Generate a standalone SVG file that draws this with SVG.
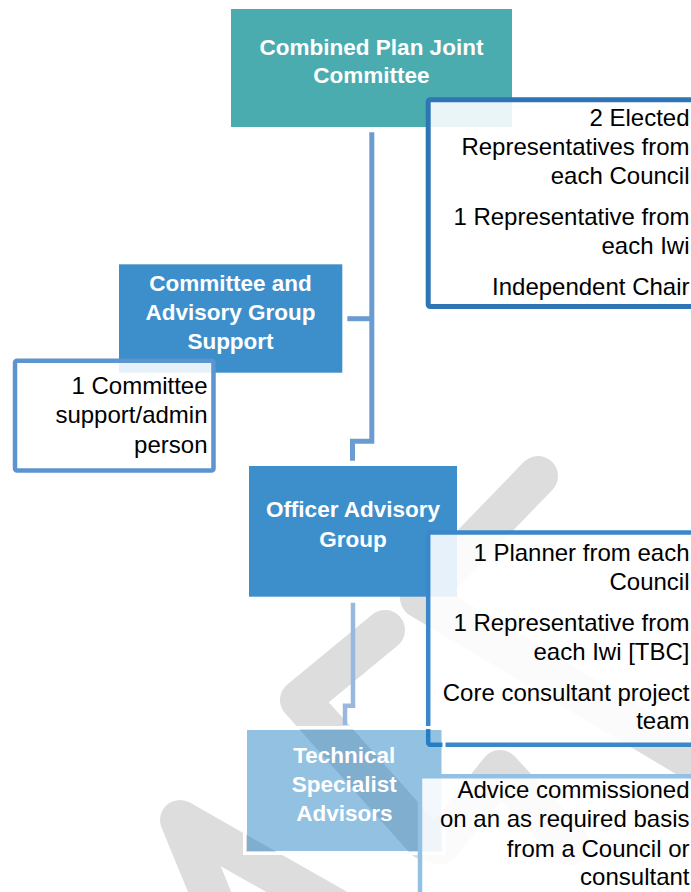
<svg xmlns="http://www.w3.org/2000/svg" width="691" height="892" viewBox="0 0 691 892">
  <style>
    .head { font-family: "Liberation Sans", Arial, sans-serif; font-weight: bold; font-size: 22.5px; fill: #ffffff; text-anchor: middle; }
    .item { font-family: "Liberation Sans", Arial, sans-serif; font-size: 24px; fill: #000000; text-anchor: end; }
    .card { fill: #ffffff; fill-opacity: 0.88; }
    .wm { fill: none; stroke: #dddddd; stroke-width: 40; stroke-linejoin: round; stroke-linecap: round; }
    .link { fill: none; stroke-linejoin: miter; }
  </style>

  <rect x="0" y="0" width="691" height="892" fill="#ffffff"/>

  <!-- background watermark strokes -->
  <g id="watermark">
    <path class="wm" d="M215,905 L180,820 L335,908"/>
    <path class="wm" d="M385,630 L300,700 L425,840"/>
    <path class="wm" d="M538,476 L420,598 L730,783"/>
    <path class="wm" d="M440,845 L500,770 L570,845"/>
  </g>

  <!-- connectors -->
  <g id="connectors">
    <path class="link" d="M371.8,132.3 V441.3 H352.5 V460.7" stroke="#6a9bd1" stroke-width="5"/>
    <path class="link" d="M347.3,318.7 H371.8" stroke="#6a9bd1" stroke-width="5"/>
    <path class="link" d="M353,602.7 V705.8 H345 V725" stroke="#9ab8de" stroke-width="4.5"/>
  </g>

  <!-- Combined Plan Joint Committee -->
  <g id="joint-committee">
    <rect x="231" y="9" width="281" height="118" fill="#4bacb0"/>
    <text class="head" x="371.5" y="55">Combined Plan Joint</text>
    <text class="head" x="371.5" y="83">Committee</text>
  </g>

  <g id="joint-committee-members">
    <rect class="card" x="428.2" y="99.8" width="300" height="206.7" rx="2" stroke="#2e75b6" stroke-width="5"/>
    <text class="item" x="689.5" y="126">2 Elected</text>
    <text class="item" x="689.5" y="155">Representatives from</text>
    <text class="item" x="689.5" y="184">each Council</text>
    <text class="item" x="689.5" y="225">1 Representative from</text>
    <text class="item" x="689.5" y="254">each Iwi</text>
    <text class="item" x="689.5" y="295">Independent Chair</text>
  </g>

  <!-- Committee and Advisory Group Support -->
  <g id="support">
    <rect x="119" y="264.3" width="223.3" height="108.4" fill="#3d8fcc"/>
    <text class="head" x="230.5" y="291">Committee and</text>
    <text class="head" x="230.5" y="320">Advisory Group</text>
    <text class="head" x="230.5" y="349">Support</text>
  </g>

  <g id="support-members">
    <rect class="card" x="15" y="360.8" width="198.5" height="109.7" rx="2" stroke="#5b94cf" stroke-width="4.5"/>
    <text class="item" x="207.5" y="394">1 Committee</text>
    <text class="item" x="207.5" y="423">support/admin</text>
    <text class="item" x="207.5" y="453">person</text>
  </g>

  <!-- Officer Advisory Group -->
  <g id="officer-group">
    <rect x="249" y="466" width="208" height="130.7" fill="#3d8fcc"/>
    <text class="head" x="353" y="517">Officer Advisory</text>
    <text class="head" x="353" y="547">Group</text>
  </g>

  <g id="officer-group-members">
    <rect class="card" x="428.2" y="532.5" width="300" height="212.3" rx="2" stroke="#3a88c9" stroke-width="4.5"/>
    <text class="item" x="689.5" y="561">1 Planner from each</text>
    <text class="item" x="689.5" y="590">Council</text>
    <text class="item" x="689.5" y="631">1 Representative from</text>
    <text class="item" x="689.5" y="660">each Iwi [TBC]</text>
    <text class="item" x="689.5" y="701">Core consultant project</text>
    <text class="item" x="689.5" y="729">team</text>
  </g>

  <!-- Technical Specialist Advisors -->
  <g id="technical">
    <rect x="247" y="730" width="194.5" height="121" fill="#0a72bd" fill-opacity="0.44"/>
    <rect x="244.5" y="727.5" width="199.5" height="126" fill="none" stroke="#ffffff" stroke-width="3"/>
    <text class="head" x="344.3" y="763">Technical</text>
    <text class="head" x="344.3" y="792">Specialist</text>
    <text class="head" x="344.3" y="821">Advisors</text>
  </g>

  <g id="technical-members">
    <rect class="card" x="420" y="776.2" width="300" height="140" rx="2" stroke="#92c1e4" stroke-width="4.5"/>
    <text class="item" x="689.5" y="798">Advice commissioned</text>
    <text class="item" x="689.5" y="827">on an as required basis</text>
    <text class="item" x="689.5" y="856.5">from a Council or</text>
    <text class="item" x="689.5" y="885">consultant</text>
  </g>
</svg>
